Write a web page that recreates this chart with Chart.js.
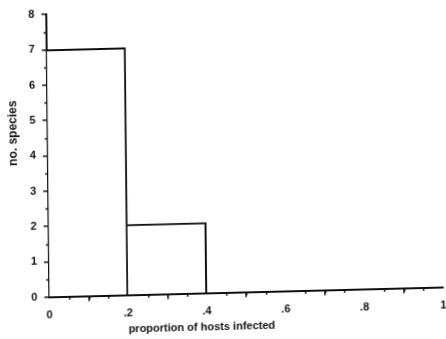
<!DOCTYPE html>
<html>
<head>
<meta charset="utf-8">
<script src="https://cdn.jsdelivr.net/npm/chart.js@4"></script>
<style>
  html, body { margin: 0; padding: 0; background: #fff; overflow: hidden; }
  #wrap { width: 446px; height: 339px; overflow: hidden; }
  /* la figura original esta escaneada algo torcida */
  #grafico { transform-origin: 223px 169.5px; transform: matrix(1, -0.025, 0.0107, 1, 0, 0); }
</style>
</head>
<body>
<div id="wrap"><canvas id="grafico" width="452" height="339"></canvas></div>
<script>
// limites de las clases y cantidad de especies en cada una
const binEdges = [0, 0.2, 0.4, 0.6, 0.8, 1];
const counts = [7, 2, 0, 0, 0];
const xTitle = "proportion of hosts infected";
const yTitle = "no. species";

const puntos = counts.map((c, i) => ({ x: (binEdges[i] + binEdges[i + 1]) / 2, y: c }));
const fuente = "'Liberation Sans', Arial, sans-serif";

// marcas menores, titulos de los ejes (x empieza en .2, y algo arriba del centro)
const extras = {
  id: "extras",
  afterDraw(chart) {
    const ctx = chart.ctx;
    const sx = chart.scales.x;
    const sy = chart.scales.y;
    const { left, bottom } = chart.chartArea;
    ctx.save();
    ctx.strokeStyle = "#111";
    ctx.lineWidth = 1.5;
    for (let i = 1; i < 20; i++) {
      if (i % 4 === 0) continue;
      const px = Math.round(sx.getPixelForValue(i * 0.05)) + 0.5;
      ctx.beginPath();
      ctx.moveTo(px, bottom);
      ctx.lineTo(px, bottom + 3);
      ctx.stroke();
    }
    for (let i = 0; i < 8; i++) {
      const py = Math.round(sy.getPixelForValue(i + 0.5)) + 0.5;
      ctx.beginPath();
      ctx.moveTo(left, py);
      ctx.lineTo(left - 3, py);
      ctx.stroke();
    }
    ctx.fillStyle = "#111";
    ctx.textBaseline = "middle";
    ctx.font = "bold 11px " + fuente;
    ctx.textAlign = "left";
    ctx.fillText(xTitle, sx.getPixelForValue(0.2), 326.5);
    ctx.translate(14, 128);
    ctx.rotate(-Math.PI / 2);
    ctx.font = "bold 12px " + fuente;
    ctx.textAlign = "center";
    ctx.fillText(yTitle, 0, 0);
    ctx.restore();
  }
};

new Chart(document.getElementById("grafico"), {
  type: "bar",
  data: {
    datasets: [{
      data: puntos,
      backgroundColor: "#fff",
      borderColor: "#111",
      borderWidth: { top: 2, right: 2, bottom: 0, left: 0 },
      categoryPercentage: 1,
      barPercentage: 1
    }]
  },
  options: {
    responsive: false,
    animation: false,
    layout: { padding: { top: 10, right: 0, bottom: 14, left: 23 } },
    plugins: { legend: { display: false }, tooltip: { enabled: false } },
    scales: {
      x: {
        type: "linear",
        min: 0,
        max: 1,
        offset: false,
        border: { color: "#111", width: 2 },
        grid: { drawOnChartArea: false, color: "#111", tickLength: 5, lineWidth: 1.5 },
        ticks: {
          stepSize: 0.2,
          autoSkip: false,
          maxRotation: 0,
          padding: 7,
          color: "#111",
          font: { family: fuente, size: 11, weight: "bold" },
          callback: v => {
            const r = Math.round(v * 10);
            if (r === 0) return "0";
            if (r === 10) return "1";
            return "." + r;
          }
        }
      },
      y: {
        min: 0,
        max: 8,
        afterFit: s => { s.paddingTop = 0; },
        border: { color: "#111", width: 2 },
        grid: { drawOnChartArea: false, color: "#111", tickLength: 5, lineWidth: 1.5 },
        ticks: {
          stepSize: 1,
          autoSkip: false,
          padding: 7,
          color: "#111",
          font: { family: fuente, size: 11, weight: "bold" }
        }
      }
    }
  },
  plugins: [extras]
});
</script>
</body>
</html>
